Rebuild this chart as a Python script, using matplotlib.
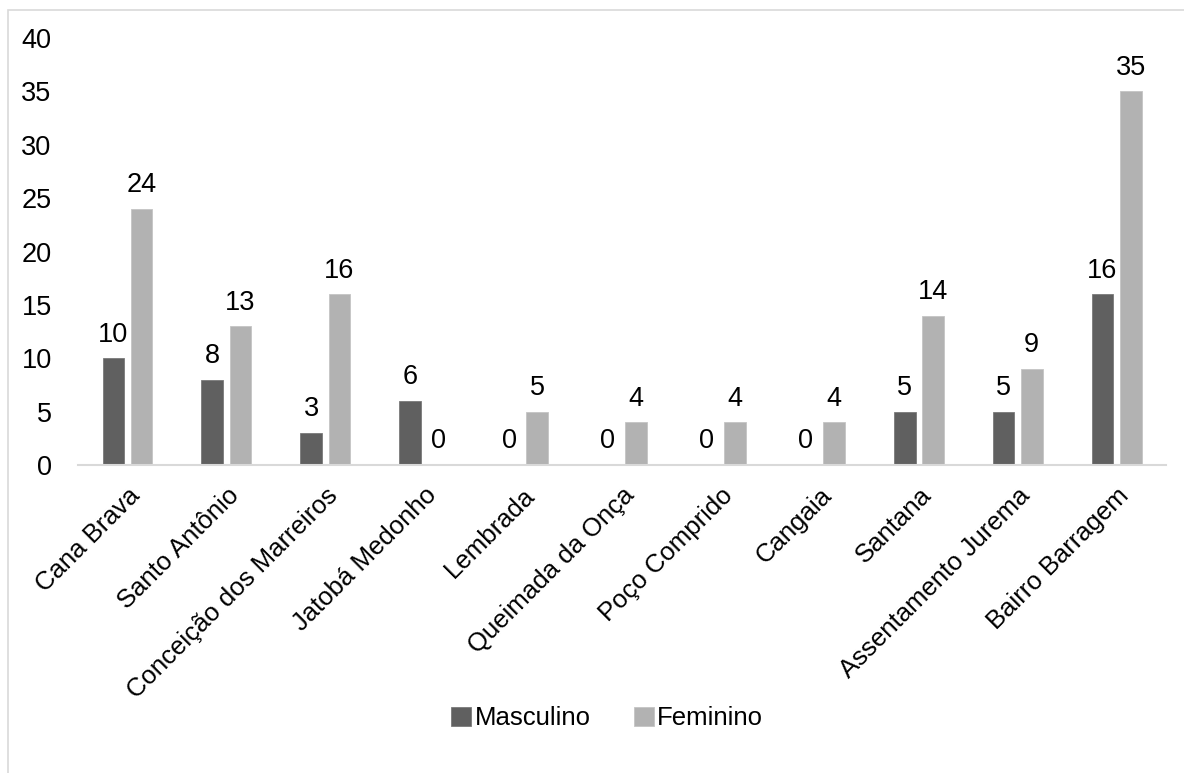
import numpy as np
import matplotlib.pyplot as plt
from matplotlib.patches import Rectangle

categorias = ["Cana Brava", "Santo Antônio", "Conceição dos Marreiros", "Jatobá Medonho",
              "Lembrada", "Queimada da Onça", "Poço Comprido", "Cangaia", "Santana",
              "Assentamento Jurema", "Bairro Barragem"]
masculino = [10, 8, 3, 6, 0, 0, 0, 0, 5, 5, 16]
feminino = [24, 13, 16, 0, 5, 4, 4, 4, 14, 9, 35]
y_ticks = [0, 5, 10, 15, 20, 25, 30, 35, 40]

plt.rcParams['font.family'] = ['Liberation Sans Narrow', 'Liberation Sans', 'DejaVu Sans']
FS = 18.5

fig = plt.figure(figsize=(11.84, 7.73), dpi=100)
ax = fig.add_axes([0.0659, 0.3984, 0.9189, 0.5524])

# light border of the chart area
fig.patches.append(Rectangle((8 / 1184, -0.1), 1.2, 1 - 10 / 773 + 0.1,
                             transform=fig.transFigure, fill=False,
                             edgecolor='#d9d9d9', linewidth=1.2))

x = np.arange(len(categorias))
w = 0.22
gap = 0.065
off = (w + gap) / 2
b1 = ax.bar(x - off, masculino, w, color='#606060', edgecolor='#7a7a7a', linewidth=0.6, label='Masculino')
b2 = ax.bar(x + off, feminino, w, color='#b2b2b2', edgecolor='#c4c4c4', linewidth=0.6, label='Feminino')

for bars, vals in ((b1, masculino), (b2, feminino)):
    for rect, v in zip(bars, vals):
        ax.annotate(str(v), (rect.get_x() + rect.get_width() / 2, v),
                    xytext=(0, 12), textcoords='offset points',
                    ha='center', va='baseline', fontsize=FS + 1)

ax.set_xlim(-0.5, len(categorias) - 0.5)
ax.set_ylim(0, 40)
ax.set_yticks(y_ticks)
ax.set_xticks(x)
ax.set_xticklabels(categorias, rotation=45, ha='right', rotation_mode='anchor', fontsize=FS)
ax.tick_params(axis='both', length=0, labelsize=FS)
ax.tick_params(axis='y', pad=19, labelsize=FS + 1)
ax.tick_params(axis='x', pad=13)

for s in ('top', 'right', 'left'):
    ax.spines[s].set_visible(False)
ax.spines['bottom'].set_color('#d9d9d9')
ax.spines['bottom'].set_linewidth(1.5)

fig.legend(loc='center', bbox_to_anchor=(0.513, 0.071), ncol=2, frameon=False,
           fontsize=FS, handlelength=0.75, handleheight=0.75, handletextpad=0.15,
           columnspacing=1.7)

fig.savefig('out.png', dpi=100)
